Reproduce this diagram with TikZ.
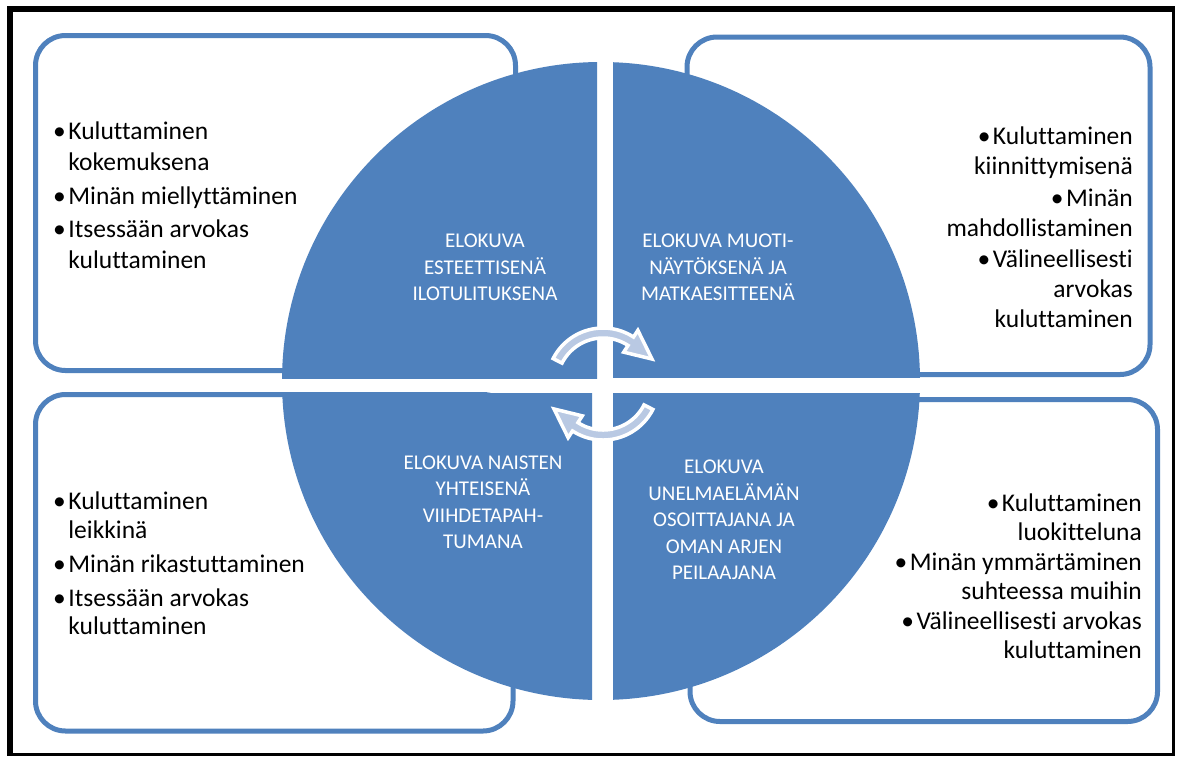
\documentclass[tikz,border=0pt]{standalone}
\usepackage{fontspec}
\setmainfont[Ligatures={NoCommon,NoContextual},Contextuals=NoAlternate]{Carlito}
\definecolor{qblue}{HTML}{4F81BD}
\definecolor{arrowfill}{RGB}{185,201,227}
\newcommand\bul{•\kern2.5pt}
\tikzset{
  rbox/.style={draw=qblue, line width=5pt, rounded corners=30pt, fill=white},
  quad/.style={fill=qblue},
  btext/.style={inner sep=0pt, text=black},
  qtext/.style={inner sep=0pt, text=white, align=center, anchor=north,
    font=\fontsize{21}{26.5}\selectfont},
  cyc/.style={fill=arrowfill, draw=white, line width=3.5pt, line join=miter},
}
\begin{document}
\begin{tikzpicture}[x=1pt,y=-1pt]
\useasboundingbox (0,0) rectangle (1177,756);
\fill[white] (0,0) rectangle (1177,756);
% outer frame
\fill[black] (7,6) rectangle (1175,12);
\fill[black] (7,6) rectangle (13,756);
\fill[black] (1172,6) rectangle (1175,756);
\fill[black] (7,753) rectangle (1175,756);
% rounded boxes
\draw[rbox] (35.5,35.5) rectangle (515.5,370.5);
\draw[rbox] (687,37) rectangle (1150,374.5);
\draw[rbox] (35.5,394.5) rectangle (513,731);
\draw[rbox] (690,399.5) rectangle (1157.5,721.5);
% quadrants
\begin{scope}\clip (0,0) rectangle (597,378);
  \fill[quad] (601,381) circle[radius=319pt];\end{scope}
\begin{scope}\clip (613,0) rectangle (1177,377);
  \fill[quad] (601,381) circle[radius=319pt];\end{scope}
\begin{scope}\clip (0,393) rectangle (592,756);
  \fill[quad] (601,381) circle[radius=319pt];\end{scope}
\begin{scope}\clip (613,393) rectangle (1177,756);
  \fill[quad] (601,381) circle[radius=319pt];\end{scope}
% cycle arrows
\begin{scope}[shift={(603,384)}]
  \filldraw[cyc] plot[domain=207:303,samples=50] (\x:56) -- (303:64) -- (333:55)
    -- (303:38) -- plot[domain=303:207,samples=50] (\x:46) -- cycle;
  \filldraw[cyc] plot[domain=27:123,samples=50] (\x:56) -- (123:64) -- (153:55)
    -- (123:38) -- plot[domain=123:27,samples=50] (\x:46) -- cycle;
\end{scope}
% quadrant texts
\node[qtext] (q1) at (485,234) {ELOKUVA\\ESTEETTISENÄ\\ILOTULITUKSENA};
\node[qtext] (q2) at (718,234) {ELOKUVA MUOTI-\\NÄYTÖKSENÄ JA\\MATKAESITTEENÄ};
\node[qtext] (q3) at (483,455.5) {ELOKUVA NAISTEN\\YHTEISENÄ\\VIIHDETAPAH-\\TUMANA};
\node[qtext] (q4) at (724,460) {ELOKUVA\\UNELMAELÄMÄN\\OSOITTAJANA JA\\OMAN ARJEN\\PEILAAJANA};
% box texts
\node[btext, align=left, anchor=north west, font=\fontsize{25.5}{31}\selectfont] (t1) at (53,122)
  {\bul Kuluttaminen\\\phantom{\bul}kokemuksena\\[2.5pt]\bul Minän miellyttäminen\\[2.5pt]\bul Itsessään arvokas\\\phantom{\bul}kuluttaminen};
\node[btext, align=right, anchor=north east, font=\fontsize{25.5}{30}\selectfont] (t2) at (1133,127)
  {\bul Kuluttaminen\\kiinnittymisenä\\[1.5pt]\bul Minän\\mahdollistaminen\\[1.5pt]\bul Välineellisesti\\arvokas\\kuluttaminen};
\node[btext, align=left, anchor=north west, font=\fontsize{25.5}{28.5}\selectfont] (t3) at (53,492)
  {\bul Kuluttaminen\\\phantom{\bul}leikkinä\\[5.5pt]\bul Minän rikastuttaminen\\[5.5pt]\bul Itsessään arvokas\\\phantom{\bul}kuluttaminen};
\node[btext, align=right, anchor=north east, font=\fontsize{25.5}{29}\selectfont] (t4) at (1142,494)
  {\bul Kuluttaminen\\luokitteluna\\[1pt]\bul Minän ymmärtäminen\\suhteessa muihin\\[1pt]\bul Välineellisesti arvokas\\kuluttaminen};
\end{tikzpicture}
\end{document}
